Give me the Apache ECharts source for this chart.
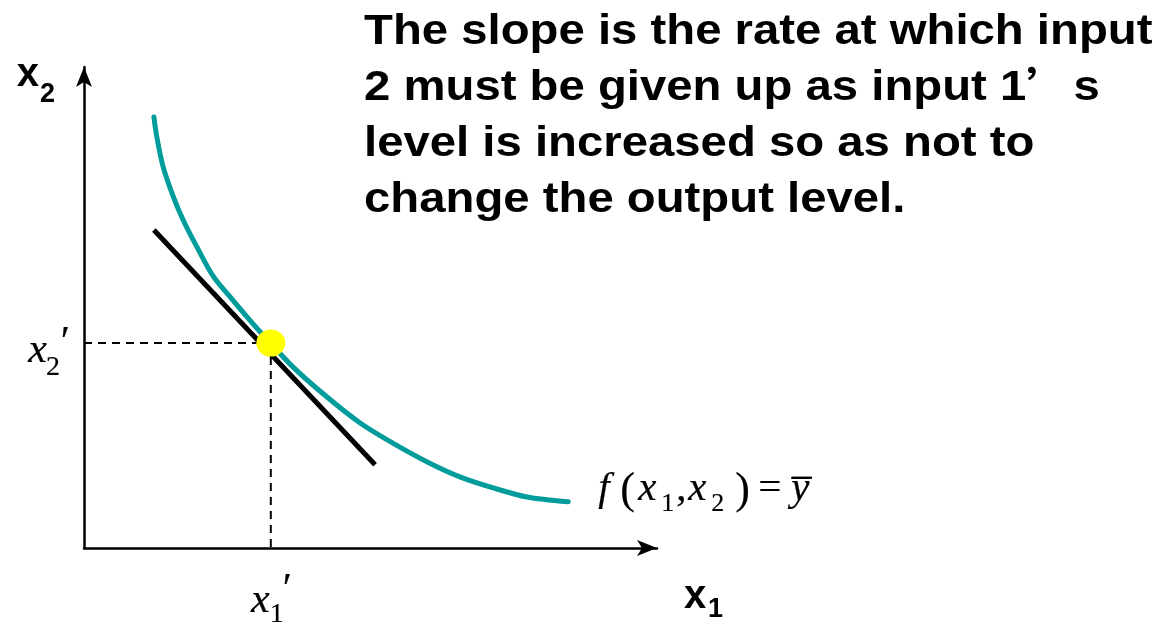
<!DOCTYPE html>
<html>
<head>
<meta charset="utf-8">
<script src="https://cdn.jsdelivr.net/npm/echarts@6/dist/echarts.min.js"></script>
<style>
  html, body { margin: 0; padding: 0; background: #ffffff; }
  #chart { width: 1169px; height: 627px; }
</style>
</head>
<body>
<div id="chart"></div>
<script>
// Isoquant f(x1, x2) = y-bar, sampled as (x1, x2) pairs
const isoquantX1 = [1.22, 1.27, 1.38, 1.56, 1.73, 1.97, 2.26, 2.55, 2.84, 3.07, 3.65, 4.24, 4.82, 5.39, 5.99, 6.56, 7.14, 7.73, 8.45];
const isoquantX2 = [8.96, 8.55, 7.93, 7.30, 6.82, 6.26, 5.64, 5.22, 4.81, 4.50, 3.76, 3.14, 2.60, 2.18, 1.79, 1.48, 1.25, 1.06, 0.96];

// Tangent line at the chosen input bundle
const tangentX1 = [1.22, 5.08];
const tangentX2 = [6.61, 1.73];

// Chosen input bundle (x1', x2')
const bundleX1 = 3.26;
const bundleX2 = 4.26;

// Axis extent
const axisMin = 0;
const axisMax = 10;

// Caption lines
const captionLines = [
  'The slope is the rate at which input',
  '2 must be given up as input 1{q|\u2019}s',
  'level is increased so as not to',
  'change the output level.'
];

const isoquant = isoquantX1.map((v, i) => [v, isoquantX2[i]]);
const tangent = tangentX1.map((v, i) => [v, tangentX2[i]]);

const serif = '"Liberation Serif", "Times New Roman", serif';
const sans = '"Liberation Sans", Arial, sans-serif';

// rich-text token helper: top-aligned, shifted down by padding top
function tok(family, size, padTop, width, extra) {
  const t = {
    fontFamily: family,
    fontSize: size,
    verticalAlign: 'top',
    padding: [padTop, 0, 0, 0],
    color: '#000000',
    lineHeight: 80
  };
  if (width != null) t.width = width;
  return Object.assign(t, extra || {});
}
const ital = { fontStyle: 'italic', textBorderColor: '#000000', textBorderWidth: 0.2 };
const rom = { textBorderColor: '#000000', textBorderWidth: 0.2 };
const bold = { fontWeight: 'bold' };

const axisLineStyle = {
  show: true,
  onZero: false,
  symbol: ['none', 'arrow'],
  symbolSize: [12, 20],
  lineStyle: { color: '#000000', width: 2.5 }
};

const chart = echarts.init(document.getElementById('chart'), null, { renderer: 'canvas' });

chart.setOption({
  animation: false,
  backgroundColor: '#ffffff',
  grid: { left: 84, right: 512, top: 67, bottom: 79, containLabel: false },
  xAxis: {
    type: 'value',
    min: axisMin,
    max: axisMax,
    axisLine: axisLineStyle,
    axisTick: { show: false },
    axisLabel: { show: false },
    splitLine: { show: false },
    name: '{b|x}{s|1}',
    nameLocation: 'end',
    nameGap: 27,
    nameTextStyle: {
      align: 'left',
      verticalAlign: 'top',
      color: '#000000',
      rich: {
        b: tok(sans, 40, 28.8, 24, bold),
        s: tok(sans, 27, 47.6, 14, bold)
      }
    }
  },
  yAxis: {
    type: 'value',
    min: axisMin,
    max: axisMax,
    axisLine: axisLineStyle,
    axisTick: { show: false },
    axisLabel: { show: false },
    splitLine: { show: false },
    name: '{b|x}{s|2}',
    nameLocation: 'end',
    nameGap: 20,
    nameTextStyle: {
      align: 'right',
      verticalAlign: 'top',
      padding: [0, 29, 0, 0],
      color: '#000000',
      rich: {
        b: tok(sans, 40, 7.8, 26, bold),
        s: tok(sans, 27, 33.6, 16, bold)
      }
    }
  },
  graphic: {
    elements: [{
      type: 'text',
      x: 364,
      y: 4,
      scaleX: 1.1,
      silent: true,
      style: {
        text: captionLines.join('\n'),
        fill: '#000000',
        font: 'bold 43px "Liberation Sans"',
        lineHeight: 56,
        align: 'left',
        verticalAlign: 'top',
        rich: {
          q: { fontFamily: 'Noto Sans CJK SC', fontWeight: 'bold', fontSize: 43, lineHeight: 56 }
        }
      }
    }]
  },
  series: [
    {
      // dashed guide from the x2 axis to the bundle
      type: 'line',
      data: [[axisMin, bundleX2], [bundleX1, bundleX2]],
      showSymbol: false,
      silent: true,
      z: 1,
      lineStyle: { color: '#000000', width: 2, type: [8, 6] }
    },
    {
      // dashed guide from the bundle down to the x1 axis
      type: 'line',
      data: [[bundleX1, bundleX2], [bundleX1, axisMin]],
      showSymbol: false,
      silent: true,
      z: 1,
      lineStyle: { color: '#000000', width: 2, type: [8, 6] }
    },
    {
      // isoquant
      type: 'line',
      data: isoquant,
      smooth: 0.3,
      showSymbol: false,
      silent: true,
      z: 2,
      lineStyle: { color: '#009b9b', width: 5, cap: 'round' }
    },
    {
      // tangent
      type: 'line',
      data: tangent,
      showSymbol: false,
      silent: true,
      z: 3,
      lineStyle: { color: '#000000', width: 5, cap: 'butt' }
    },
    {
      // the bundle itself
      type: 'scatter',
      data: [[bundleX1, bundleX2]],
      symbol: 'circle',
      symbolSize: [29, 27],
      silent: true,
      z: 4,
      itemStyle: { color: '#ffff00', opacity: 1 }
    },
    {
      // math labels
      type: 'scatter',
      symbolSize: 0,
      silent: true,
      z: 5,
      itemStyle: { opacity: 1 },
      data: [
        {
          value: [axisMin, bundleX2],
          label: {
            show: true,
            position: 'left',
            distance: 0,
            offset: [-14, 17],
            formatter: '{b|x}{s|2}{p|\u2032}',
            rich: {
              b: tok(serif, 42, 10.1, 23, ital),
              s: tok(serif, 28, 33.8, 13, rom),
              p: tok(serif, 42, 3.1, 10, rom)
            }
          }
        },
        {
          value: [bundleX1, axisMin],
          label: {
            show: true,
            position: 'bottom',
            distance: 0,
            offset: [0, 22],
            formatter: '{b|x}{s|1}{p|\u2032}',
            rich: {
              b: tok(serif, 42, 10.1, 22, ital),
              s: tok(serif, 28, 30.8, 11, rom),
              p: tok(serif, 42, 0.1, 10, rom)
            }
          }
        },
        {
          value: isoquant[isoquant.length - 1],
          label: {
            show: true,
            position: 'right',
            distance: 0,
            offset: [30, -7],
            formatter: '{f|f}{lp|(}{x|x}{s1|1}{c|,}{x|x}{s2|2}{rp|)}{eq|=}{yb|y\u0305}',
            rich: {
              f: tok(serif, 41, 14, 22, ital),
              lp: tok(serif, 44, 14.5, 18, rom),
              x: tok(serif, 41, 14, 23, ital),
              s1: tok(serif, 26, 36.4, 15, rom),
              c: tok(serif, 41, 14, 12, rom),
              s2: tok(serif, 26, 36.4, 24, rom),
              rp: tok(serif, 44, 14.5, 23, rom),
              eq: tok(serif, 41, 14, 33, rom),
              yb: tok(serif, 41, 14, null, ital)
            }
          }
        }
      ]
    }
  ]
});
</script>
</body>
</html>
